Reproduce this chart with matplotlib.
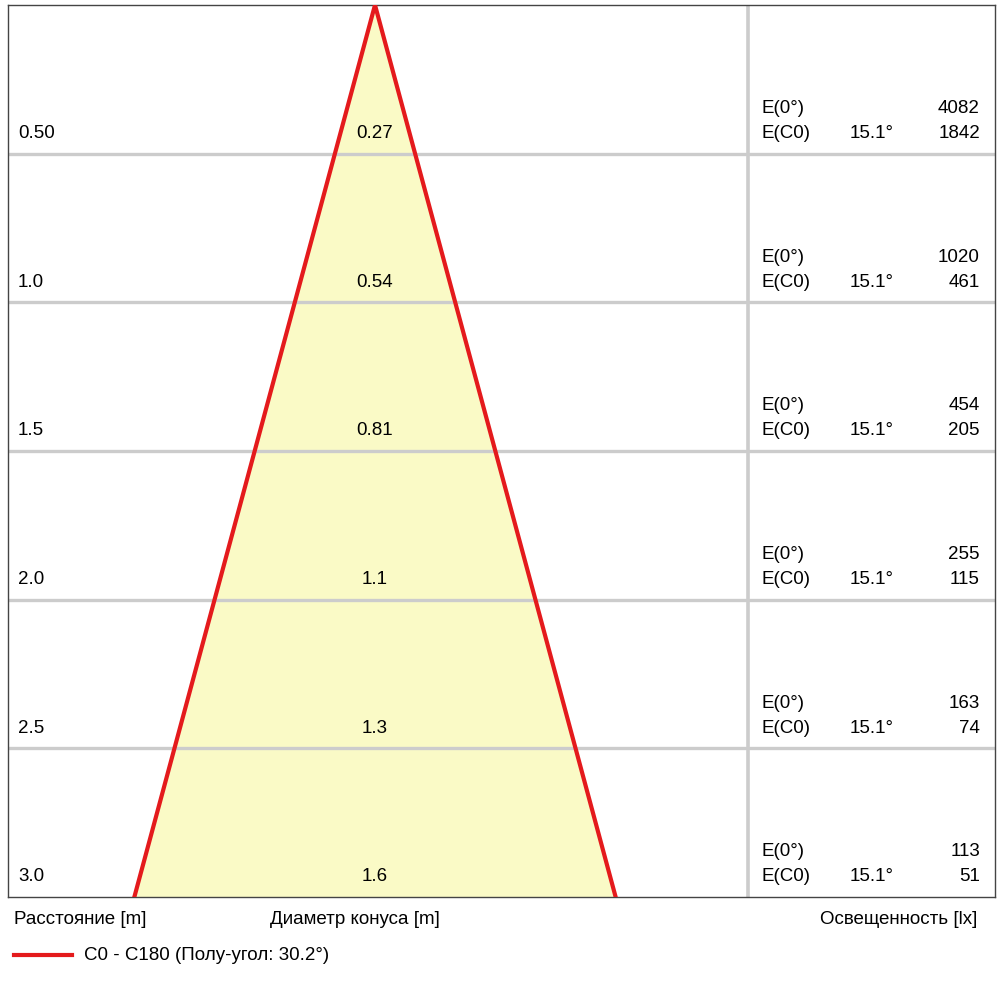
import numpy as np
import matplotlib.pyplot as plt

plt.rcParams['font.family'] = ['Liberation Sans', 'DejaVu Sans']

# ---------------- data ----------------
distances = [0.5, 1.0, 1.5, 2.0, 2.5, 3.0]
dist_labels = ["0.50", "1.0", "1.5", "2.0", "2.5", "3.0"]
diam_labels = ["0.27", "0.54", "0.81", "1.1", "1.3", "1.6"]
e_center = [4082, 1020, 454, 255, 163, 113]
e_c0 = [1842, 461, 205, 115, 74, 51]
half_angle = 15.1      # deg, for cone width
legend_half = 30.2
max_d = 3.0

# ---------------- plot ----------------
fig = plt.figure(figsize=(10, 10), dpi=100)
px = 297.3  # pixels per metre
x0, x1, y0, y1 = 8, 995, 5, 897
ax = fig.add_axes([x0/1000, 1 - y1/1000, (x1 - x0)/1000, (y1 - y0)/1000])
apex = 375
ax.set_xlim((x0 - apex)/px, (x1 - apex)/px)
ax.set_ylim(max_d, 0)
ax.set_xticks([]); ax.set_yticks([])
for s in ax.spines.values():
    s.set_linewidth(1.0); s.set_color('#444444')

for d in distances[:-1]:
    ax.axhline(d, color='#cccccc', lw=2.4, zorder=1)
xv = (748 - apex)/px
ax.axvline(xv, color='#cccccc', lw=2.6, zorder=1)

hw = max_d*np.tan(np.radians(half_angle))
tx = [-hw, 0, hw]
ty = [max_d, 0, max_d]
ax.fill(tx, ty, color='#fafac6', zorder=0)
ax.plot(tx, ty, color='#e41a1c', lw=3, zorder=3, solid_joinstyle='miter')

fs = 13.5
xl = (18 - apex)/px
xe = (762 - apex)/px
xa = (850 - apex)/px
xr = (980 - apex)/px
for i, d in enumerate(distances):
    yt = d - 20/px
    ax.text(xl, yt, dist_labels[i], fontsize=fs, va='center', ha='left', zorder=4)
    ax.text(0, yt, diam_labels[i], fontsize=fs, va='center', ha='center', zorder=4)
    ye = d - 45/px
    ax.text(xe, ye, "E(0°)", fontsize=fs, va='center', ha='left')
    ax.text(xr, ye, str(e_center[i]), fontsize=fs, va='center', ha='right')
    ax.text(xe, yt, "E(C0)", fontsize=fs, va='center', ha='left')
    ax.text(xa, yt, f"{half_angle}°", fontsize=fs, va='center', ha='left')
    ax.text(xr, yt, str(e_c0[i]), fontsize=fs, va='center', ha='right')

fig.text(14/1000, 1 - 919/1000, "Расстояние [m]", fontsize=fs, va='center', ha='left')
fig.text(270/1000, 1 - 919/1000, "Диаметр конуса [m]", fontsize=fs, va='center', ha='left')
fig.text(977/1000, 1 - 919/1000, "Освещенность [lx]", fontsize=fs, va='center', ha='right')
fig.lines.append(plt.Line2D([14/1000, 72/1000], [1 - 955/1000]*2, color='#e41a1c', lw=3,
                            transform=fig.transFigure))
fig.text(84/1000, 1 - 955/1000, f"C0 - C180 (Полу-угол: {legend_half}°)", fontsize=fs,
         va='center', ha='left')

fig.savefig("out.png", dpi=100)
